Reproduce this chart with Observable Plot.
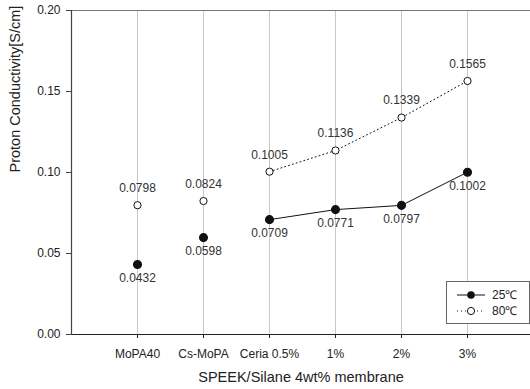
<!DOCTYPE html>
<html>
<head>
<meta charset="utf-8">
<script src="https://cdn.jsdelivr.net/npm/d3@7"></script>
<script src="https://cdn.jsdelivr.net/npm/@observablehq/plot@0.6"></script>
<style>
  body { margin: 0; background: #fff; }
  #wrap { position: relative; width: 530px; height: 389px; font-family: "Liberation Sans", Arial, sans-serif; }
  #legend { position: absolute; left: 446px; top: 281px; width: 82px; height: 41px; border: 1px solid #666; background: #fff; }
</style>
</head>
<body>
<div id="wrap"></div>
<script>
const categories = ["MoPA40", "Cs-MoPA", "Ceria 0.5%", "1%", "2%", "3%"];
const values25 = [0.0432, 0.0598, 0.0709, 0.0771, 0.0797, 0.1002];
const values80 = [0.0798, 0.0824, 0.1005, 0.1136, 0.1339, 0.1565];
const labels25 = ["0.0432", "0.0598", "0.0709", "0.0771", "0.0797", "0.1002"];
const labels80 = ["0.0798", "0.0824", "0.1005", "0.1136", "0.1339", "0.1565"];
const yTicks = [0, 0.05, 0.10, 0.15, 0.20];
const seriesNames = ["25℃", "80℃"];
const xTitle = "SPEEK/Silane 4wt% membrane";
const yTitle = "Proton Conductivity[S/cm]";
const lineStart = 2; // lines connect Ceria 0.5% .. 3%

const d25 = categories.map((c, i) => ({cat: c, v: values25[i], label: labels25[i]}));
const d80 = categories.map((c, i) => ({cat: c, v: values80[i], label: labels80[i]}));

const font = "Liberation Sans, Arial, sans-serif";

const chart = Plot.plot({
  width: 530,
  height: 389,
  marginTop: 10,
  marginBottom: 55,
  marginLeft: 71,
  marginRight: 0,
  style: {fontFamily: font, color: "#222", background: "#fff"},
  x: {type: "point", domain: categories, range: [71, 533], padding: 1},
  y: {domain: [0, 0.2]},
  marks: [
    Plot.ruleX(categories, {x: d => d, y1: 0, y2: 0.2, stroke: "#c8c8c8", strokeWidth: 1}),
    Plot.ruleY([0.2], {stroke: "#777", strokeWidth: 1.2}),
    Plot.ruleY([0], {stroke: "#222", strokeWidth: 1.2}),
    Plot.frame({anchor: "left", stroke: "#444", strokeWidth: 1.2}),
    Plot.axisY({ticks: yTicks, tickFormat: d3.format(".2f"), tickSize: 5, tickPadding: 6, fontSize: 12, stroke: "#444", label: null}),
    Plot.axisX({tickSize: 4, tickPadding: 11, fontSize: 12, stroke: "#222", label: null}),
    Plot.text([xTitle], {frameAnchor: "bottom", dy: 47, fontSize: 14.5, fill: "#222"}),
    Plot.text([yTitle], {frameAnchor: "left", rotate: -90, dx: -56, fontSize: 14.5, fill: "#222"}),
    Plot.line(d80.slice(lineStart), {x: "cat", y: "v", stroke: "#111", strokeWidth: 1, strokeDasharray: "1,3"}),
    Plot.line(d25.slice(lineStart), {x: "cat", y: "v", stroke: "#111", strokeWidth: 1}),
    Plot.dot(d80, {x: "cat", y: "v", r: 3.6, fill: "#fff", stroke: "#111", strokeWidth: 1}),
    Plot.dot(d25, {x: "cat", y: "v", r: 3.8, fill: "#111", stroke: "#111"}),
    Plot.text(d80, {x: "cat", y: "v", text: "label", dy: -17, fontSize: 12, fill: "#333"}),
    Plot.text(d25, {x: "cat", y: "v", text: "label", dy: 14, fontSize: 12, fill: "#333"})
  ]
});
const wrap = document.getElementById("wrap");
wrap.appendChild(chart);

// legend
const leg = document.createElement("div");
leg.id = "legend";
leg.innerHTML = `
<svg width="82" height="41" style="font-family:${font}">
  <line x1="10" x2="38" y1="13" y2="13" stroke="#111" stroke-width="1"/>
  <circle cx="24" cy="13" r="3.8" fill="#111"/>
  <text x="45" y="13" dy="0.35em" font-size="12" fill="#222">${seriesNames[0]}</text>
  <line x1="10" x2="38" y1="29" y2="29" stroke="#111" stroke-width="1" stroke-dasharray="1,3"/>
  <circle cx="24" cy="29" r="3.6" fill="#fff" stroke="#111"/>
  <text x="45" y="29" dy="0.35em" font-size="12" fill="#222">${seriesNames[1]}</text>
</svg>`;
wrap.appendChild(leg);
</script>
</body>
</html>
